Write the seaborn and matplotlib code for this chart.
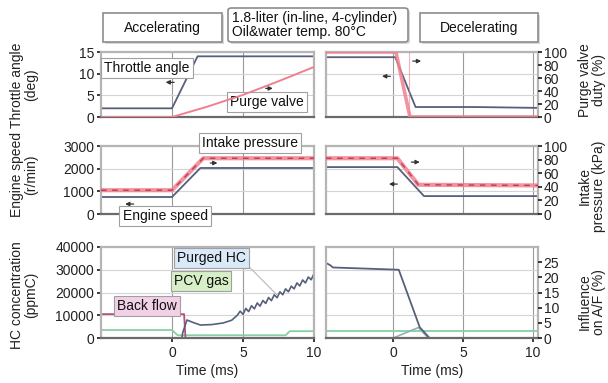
import matplotlib
matplotlib.use("Agg")
import matplotlib.pyplot as plt
import seaborn as sns
from matplotlib.patches import FancyBboxPatch

sns.set_theme(style="white")
plt.rcParams['font.family'] = ['Liberation Sans', 'DejaVu Sans']
plt.rcParams['font.size'] = 10

# ---------------- data ----------------
# Accelerating (left column)
acc_thr_t = [-5, 0, 1.8, 10]
acc_thr = [2, 2, 14, 14]                      # deg
acc_purge_t = [-5, 0, 2.5, 5, 7.5, 10]
acc_purge = [0, 0, 16, 34, 55, 77]            # % duty
acc_speed_t = [-5, 0, 2.0, 10]
acc_speed = [750, 750, 2030, 2030]            # r/min
acc_press_t = [-5, 0, 2.2, 10]
acc_press = [35, 35, 82, 82]                  # kPa
acc_hc_t = [-5, 0.7, 0.75, 1.05, 1.5, 2.0, 2.8, 3.6, 4.2, 4.6, 4.8, 5.0, 5.2, 5.4,
            5.6, 5.8, 6.0, 6.2, 6.4, 6.6, 6.8, 7.0, 7.2, 7.4, 7.6, 7.8, 8.0, 8.2,
            8.4, 8.6, 8.8, 9.0, 9.2, 9.4, 9.6, 9.8, 10.0]
acc_hc = [0, 0, 2200, 7900, 6800, 5700, 5900, 6600, 7800, 10000, 11800, 10400,
          13000, 11600, 14200, 12800, 15400, 14000, 16500, 15200, 17800, 16400,
          19000, 17700, 20300, 19000, 21600, 20300, 22800, 21600, 24200, 22900,
          25500, 24200, 26800, 25600, 28300]  # ppmC, purged HC
acc_pcv_t = [-5, 0, 0.4, 8.0, 8.3, 10]
acc_pcv = [3500, 3500, 1200, 1200, 3000, 3000]
acc_back_t = [-5, 0.85, 0.95, 10]
acc_back = [10500, 10500, 0, 0]

# Decelerating (right column)
dec_thr_t = [-4.8, 0.15, 1.6, 5.9, 10.35]
dec_thr = [13.8, 13.8, 2.3, 2.3, 2.1]
dec_purge_t = [-4.8, 0.2, 1.2, 10.35]
dec_purge = [100, 100, 0, 0]
dec_purge_close = [1.1]
dec_speed_t = [-4.8, 0.3, 2.2, 10.35]
dec_speed = [2070, 2070, 790, 790]
dec_press_t = [-4.8, 0.3, 1.8, 10.35]
dec_press = [82, 82, 43, 42]
dec_hc_t = [-4.8, -4.5, -4.3, 0.4, 1.9, 2.6, 10.35]
dec_hc = [33000, 32000, 31000, 30000, 4700, 0, 0]
dec_pcv_t = [-4.8, 10.35]
dec_pcv = [3100, 3100]
dec_back_t = [-4.8, 0, 1.8, 2.5, 10.35]
dec_back = [0, 0, 4600, 0, 0]

x_ticks = [0, 5, 10]
row_left_ticks = [[0, 5, 10, 15], [0, 1000, 2000, 3000], [0, 10000, 20000, 30000, 40000]]
row_left_lim = [(0, 15), (0, 3000), (0, 40000)]
row_right_ticks = [[0, 20, 40, 60, 80, 100], [0, 20, 40, 60, 80, 100], [0, 5, 10, 15, 20, 25]]
row_right_lim = [(0, 100), (0, 100), (0, 30)]

# ---------------- layout ----------------
W, H = 608, 383
fig = plt.figure(figsize=(W / 100, H / 100), dpi=100)

def px_axes(x0, y0, x1, y1):
    return fig.add_axes([x0 / W, 1 - y1 / H, (x1 - x0) / W, (y1 - y0) / H])

rows = [(52, 117), (146, 214), (247, 338)]
cols = [(101, 314), (326, 538)]
xlims = [(-5, 10), (-4.8, 10.35)]

DARK = '#56607a'
PINK = '#f0808f'
GREEN = '#86cfa2'
BACK = '#b8507a'

axes = {}
for r, (y0, y1) in enumerate(rows):
    for c, (x0, x1) in enumerate(cols):
        ax = px_axes(x0, y0, x1, y1)
        ax2 = ax.twinx()
        ax.set_xlim(*xlims[c])
        ax.set_ylim(*row_left_lim[r])
        ax2.set_ylim(*row_right_lim[r])
        ax.set_xticks(x_ticks)
        ax.set_yticks(row_left_ticks[r])
        ax2.set_yticks(row_right_ticks[r])
        ax.grid(True, axis='y', color='#d4d4d4', lw=0.8)
        ax.grid(True, axis='x', color='#9a9a9a', lw=0.8)
        for s in ax.spines.values():
            s.set_color('#b5b5b5'); s.set_linewidth(1.6)
        ax.spines['bottom'].set_color('#6a6a6a')
        for s in ax2.spines.values():
            s.set_visible(False)
        ax.tick_params(axis='y', left=(c == 0), labelleft=(c == 0), length=3,
                       labelsize=10, pad=2, colors='#222')
        ax2.tick_params(axis='y', right=(c == 1), labelright=(c == 1), length=3,
                        labelsize=10, pad=1, colors='#222')
        ax.tick_params(axis='x', bottom=(r == 2), labelbottom=(r == 2), length=3,
                       labelsize=10, pad=3, colors='#222')
        if r == 2:
            ax.set_xlabel('Time (ms)', fontsize=10, labelpad=3, color='#222')
        else:
            ax.set_xlabel('')
        axes[(r, c)] = (ax, ax2)

# ---------------- row 1: throttle / purge valve ----------------
ax, ax2 = axes[(0, 0)]
sns.lineplot(x=acc_purge_t, y=acc_purge, ax=ax2, color=PINK, lw=1.4)
sns.lineplot(x=acc_thr_t, y=acc_thr, ax=ax, color=DARK, lw=1.3)
ax, ax2 = axes[(0, 1)]
ax2.axvline(dec_purge_close[0], color=PINK, lw=0.8, alpha=0.6)
sns.lineplot(x=dec_purge_t, y=dec_purge, ax=ax2, color=PINK, lw=2.6, alpha=0.85)
sns.lineplot(x=dec_thr_t, y=dec_thr, ax=ax, color=DARK, lw=1.3)

# ---------------- row 2: engine speed / intake pressure ----------------
ax, ax2 = axes[(1, 0)]
sns.lineplot(x=acc_speed_t, y=acc_speed, ax=ax, color=DARK, lw=1.3)
sns.lineplot(x=acc_press_t, y=acc_press, ax=ax2, color=PINK, lw=3.0, alpha=0.85)
sns.lineplot(x=acc_press_t, y=acc_press, ax=ax2, color='#c03a4e', lw=1.0, ls=(0, (4, 4)))
ax, ax2 = axes[(1, 1)]
sns.lineplot(x=dec_speed_t, y=dec_speed, ax=ax, color=DARK, lw=1.3)
sns.lineplot(x=dec_press_t, y=dec_press, ax=ax2, color=PINK, lw=3.0, alpha=0.85)
sns.lineplot(x=dec_press_t, y=dec_press, ax=ax2, color='#c03a4e', lw=1.0, ls=(0, (4, 4)))

# ---------------- row 3: HC ----------------
ax, ax2 = axes[(2, 0)]
sns.lineplot(x=acc_pcv_t, y=acc_pcv, ax=ax, color=GREEN, lw=1.3)
sns.lineplot(x=acc_back_t, y=acc_back, ax=ax, color=BACK, lw=1.3)
sns.lineplot(x=acc_hc_t, y=acc_hc, ax=ax, color=DARK, lw=1.2)
ax, ax2 = axes[(2, 1)]
sns.lineplot(x=dec_pcv_t, y=dec_pcv, ax=ax, color=GREEN, lw=1.3)
sns.lineplot(x=dec_back_t, y=dec_back, ax=ax, color='#8fb4b0', lw=1.2)
sns.lineplot(x=dec_hc_t, y=dec_hc, ax=ax, color=DARK, lw=1.3)

# ---------------- labels inside plots ----------------
def label(ax, x, y, s, fc='white'):
    ax.text(x, y, s, ha='center', va='center', fontsize=10, color='#111', zorder=10,
            bbox=dict(boxstyle='square,pad=0.22', fc=fc, ec='#a0a0a0', lw=0.8))

label(axes[(0, 0)][0], -1.76, 11.3, 'Throttle angle')
label(axes[(0, 0)][0], 6.69, 3.46, 'Purge valve')
label(axes[(1, 0)][0], 5.49, 3150, 'Intake pressure')
label(axes[(1, 0)][0], -0.49, -90, 'Engine speed')
label(axes[(2, 0)][0], 2.75, 35200, 'Purged HC', fc='#d9e9f7')
label(axes[(2, 0)][0], 2.04, 25000, 'PCV gas', fc='#d6efc6')
label(axes[(2, 0)][0], -1.76, 14000, 'Back flow', fc='#f2d0e6')
axes[(2, 0)][0].plot([5.3, 7.4], [32100, 18900], color='#b0b0b0', lw=0.7)

# small axis-indicator arrows
def arrow(ax, x, y, direction, dx):
    tail = x + dx if direction == 'left' else x - dx
    ax.annotate('', xy=(x, y), xytext=(tail, y), zorder=9,
                arrowprops=dict(arrowstyle='-|>', color='#333', lw=0.9,
                                mutation_scale=6, shrinkA=0, shrinkB=0))

arrow(axes[(0, 0)][0], -0.45, 8.0, 'left', 0.6)
arrow(axes[(0, 0)][0], 7.1, 6.6, 'right', 0.5)
arrow(axes[(0, 1)][0], -0.8, 9.4, 'left', 0.6)
arrow(axes[(0, 1)][0], 2.0, 12.9, 'right', 0.6)
arrow(axes[(1, 0)][0], -3.3, 440, 'left', 0.6)
arrow(axes[(1, 0)][0], 3.2, 2250, 'right', 0.5)
arrow(axes[(1, 1)][0], -0.3, 1320, 'left', 0.6)
arrow(axes[(1, 1)][0], 1.9, 2290, 'right', 0.6)

# ---------------- header boxes ----------------
def fbox(x0, y0, x1, y1, rounded=False):
    style = 'round,pad=0,rounding_size=0.006' if rounded else 'square,pad=0'
    sh = FancyBboxPatch((x0 / W + 2 / W, 1 - y1 / H - 2 / H), (x1 - x0) / W, (y1 - y0) / H,
                        boxstyle=style, transform=fig.transFigure, fc='#d8d8d8',
                        ec='none', zorder=1)
    bx = FancyBboxPatch((x0 / W, 1 - y1 / H), (x1 - x0) / W, (y1 - y0) / H,
                        boxstyle=style, transform=fig.transFigure, fc='white',
                        ec='#8c8c8c', lw=1.2, zorder=2)
    fig.patches.extend([sh, bx])

fbox(103, 13, 222, 42)
fbox(228, 8, 408, 42, rounded=True)
fbox(420, 13, 538, 42)
fig.text(162.5 / W, 1 - 28 / H, 'Accelerating', ha='center', va='center', fontsize=10, color='#111', zorder=3)
fig.text(479 / W, 1 - 28 / H, 'Decelerating', ha='center', va='center', fontsize=10, color='#111', zorder=3)
fig.text(232 / W, 1 - 25 / H, '1.8-liter (in-line, 4-cylinder)\nOil&water temp. 80°C',
         ha='left', va='center', fontsize=10, color='#111', linespacing=1.0, zorder=3)

# ---------------- outer axis titles ----------------
def vtext(x, y, s):
    fig.text(x / W, 1 - y / H, s, rotation=90, ha='center', va='center', fontsize=10,
             color='#222', multialignment='center', linespacing=1.0)

vtext(24, 85, 'Throttle angle\n(deg)')
vtext(24, 175, 'Engine speed\n(r/min)')
vtext(24, 295, 'HC concentration\n(ppmC)')
vtext(592, 80, 'Purge valve\nduty (%)')
vtext(592, 186, 'Intake\npressure (kPa)')
vtext(592, 302, 'Influence\non A/F (%)')

fig.savefig('out.png', dpi=100)
